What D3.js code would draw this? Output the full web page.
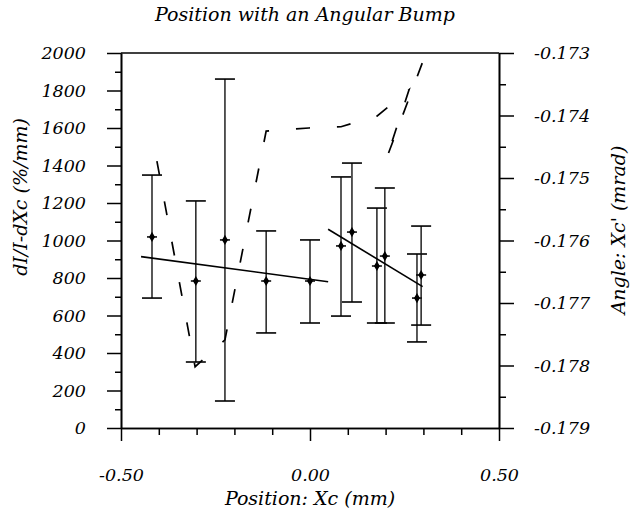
<!DOCTYPE html>
<html>
<head>
<meta charset="utf-8">
<script src="https://cdn.jsdelivr.net/npm/d3@7/dist/d3.min.js"></script>
<style>
  body { margin: 0; background: #fff; }
  svg text { font-family: "DejaVu Serif", serif; font-style: italic; font-size: 17.5px; fill: #000; }
  svg text.title { font-size: 19px; }
</style>
</head>
<body>
<svg id="chart" width="642" height="516"></svg>
<script>
// measured points (dI/I-dXc, left axis) with error bar ends
const posX   = [-0.418, -0.302, -0.225, -0.116, 0.000, 0.082, 0.111, 0.177, 0.198, 0.283, 0.294];
const dIdX   = [1019, 784, 1003, 784, 784, 971, 1045, 864, 917, 693, 816];
const errHi  = [1349, 1211, 1861, 1051, 1003, 1339, 1413, 1173, 1280, 928, 1077];
const errLo  = [693, 352, 144, 507, 560, 597, 672, 560, 560, 459, 549];

// angle trace (right axis), in measurement order
const angleX = [-0.405, -0.304, -0.225, -0.116, -0.003, 0.082, 0.177, 0.262, 0.201, 0.302];
const angleY = [-0.17473, -0.17802, -0.17759, -0.17425, -0.17420, -0.17418, -0.17401, -0.17359, -0.17471, -0.17308];

// the two straight fits
const fitAX = [-0.447, 0.048], fitAY = [914, 780];
const fitBX = [0.048, 0.298],  fitBY = [1060, 754];

// ticks
const xMajor = [-0.5, 0, 0.5];
const xMinor = [-0.4, -0.3, -0.2, -0.1, 0.1, 0.2, 0.3, 0.4];
const yMajor = [0, 200, 400, 600, 800, 1000, 1200, 1400, 1600, 1800, 2000];
const yMinor = [100, 300, 500, 700, 900, 1100, 1300, 1500, 1700, 1900];
const aMajor = [-0.179, -0.178, -0.177, -0.176, -0.175, -0.174, -0.173];
const aMinor = [-0.1785, -0.1775, -0.1765, -0.1755, -0.1745, -0.1735];

const L = 121, R = 499, T = 53, B = 428;
let svg = d3.select('#chart');

var x = d3.scaleLinear().domain([-0.5, 0.5]).range([L, R]);
var y = d3.scaleLinear().domain([0, 2000]).range([B, T]);
var ya = d3.scaleLinear().domain([-0.179, -0.173]).range([B, T]);

function styleAxis(g){
    g.selectAll('path.domain').attr('stroke', '#000').attr('stroke-width', 1.6);
    g.selectAll('.tick line').attr('stroke', '#000').attr('stroke-width', 1.5);
    g.selectAll('text').attr('font-family', null).attr('font-size', null);
}

// left axis
svg.append('g').attr('transform', 'translate(' + L + ',0)')
    .call(d3.axisLeft(y).tickValues(yMinor).tickSize(6).tickSizeOuter(0).tickFormat(''))
    .call(styleAxis);
svg.append('g').attr('transform', 'translate(' + L + ',0)')
    .call(d3.axisLeft(y).tickValues(yMajor).tickSize(14).tickSizeOuter(0).tickPadding(21)
        .tickFormat(function(d){ return String(d) }))
    .call(styleAxis);

// right axis
svg.append('g').attr('transform', 'translate(' + R + ',0)')
    .call(d3.axisRight(ya).tickValues(aMinor).tickSize(7).tickSizeOuter(0).tickFormat(''))
    .call(styleAxis);
svg.append('g').attr('transform', 'translate(' + R + ',0)')
    .call(d3.axisRight(ya).tickValues(aMajor).tickSize(15).tickSizeOuter(0).tickPadding(20)
        .tickFormat(function(d){ return d.toFixed(3) }))
    .call(styleAxis);

// bottom axis
svg.append('g').attr('transform', 'translate(0,' + B + ')')
    .call(d3.axisBottom(x).tickValues(xMinor).tickSize(7).tickSizeOuter(0).tickFormat(''))
    .call(styleAxis);
svg.append('g').attr('transform', 'translate(0,' + B + ')')
    .call(d3.axisBottom(x).tickValues(xMajor).tickSize(13).tickSizeOuter(0).tickPadding(28)
        .tickFormat(function(d){ return d.toFixed(2) }))
    .call(styleAxis);

// top border
svg.append('line')
    .attr('x1', L).attr('x2', R).attr('y1', T).attr('y2', T)
    .attr('stroke', '#000').attr('stroke-width', 1.6);

// error bars
let bars = svg.selectAll('.bar').data(posX).enter().append('g').attr('class', 'bar');
bars.append('line')
    .attr('x1', function(d){ return x(d) }).attr('x2', function(d){ return x(d) })
    .attr('y1', function(d, i){ return y(errHi[i]) })
    .attr('y2', function(d, i){ return y(errLo[i]) })
    .attr('stroke', '#111').attr('stroke-width', 1.4);
[errHi, errLo].forEach(function(arr){
    bars.append('line')
        .attr('x1', function(d){ return x(d) - 10 }).attr('x2', function(d){ return x(d) + 10 })
        .attr('y1', function(d, i){ return y(arr[i]) }).attr('y2', function(d, i){ return y(arr[i]) })
        .attr('stroke', '#000').attr('stroke-width', 1.6);
});
// markers
bars.append('line')
    .attr('x1', function(d){ return x(d) - 5 }).attr('x2', function(d){ return x(d) + 5 })
    .attr('y1', function(d, i){ return y(dIdX[i]) }).attr('y2', function(d, i){ return y(dIdX[i]) })
    .attr('stroke', '#000').attr('stroke-width', 1.5);
bars.append('path')
    .attr('d', d3.symbol(d3.symbolDiamond).size(30))
    .attr('transform', function(d, i){ return 'translate(' + x(d) + ',' + y(dIdX[i]) + ')' })
    .attr('fill', '#000');

// fit lines
let fline = d3.line().x(function(d){ return x(d[0]) }).y(function(d){ return y(d[1]) });
[[fitAX, fitAY], [fitBX, fitBY]].forEach(function(f){
    svg.append('path')
        .datum(d3.zip(f[0], f[1]))
        .attr('d', fline)
        .attr('fill', 'none').attr('stroke', '#000').attr('stroke-width', 1.6);
});

// dashed angle trace
let aline = d3.line().x(function(d){ return x(d[0]) }).y(function(d){ return ya(d[1]) });
svg.append('path')
    .datum(d3.zip(angleX, angleY))
    .attr('d', aline)
    .attr('fill', 'none').attr('stroke', '#000').attr('stroke-width', 1.7)
    .attr('stroke-dasharray', '14,27');

// titles
svg.append('text').attr('class', 'title').attr('x', 305).attr('y', 21).attr('text-anchor', 'middle')
    .text('Position with an Angular Bump');
svg.append('text').attr('class', 'title').attr('x', 310).attr('y', 505).attr('text-anchor', 'middle')
    .text('Position: Xc (mm)');
svg.append('text').attr('class', 'title').attr('transform', 'translate(27,197) rotate(-90)').attr('text-anchor', 'middle')
    .text('dI/I-dXc (%/mm)');
svg.append('text').attr('class', 'title').attr('transform', 'translate(625,230) rotate(-90)').attr('text-anchor', 'middle')
    .text("Angle: Xc' (mrad)");
</script>
</body>
</html>
